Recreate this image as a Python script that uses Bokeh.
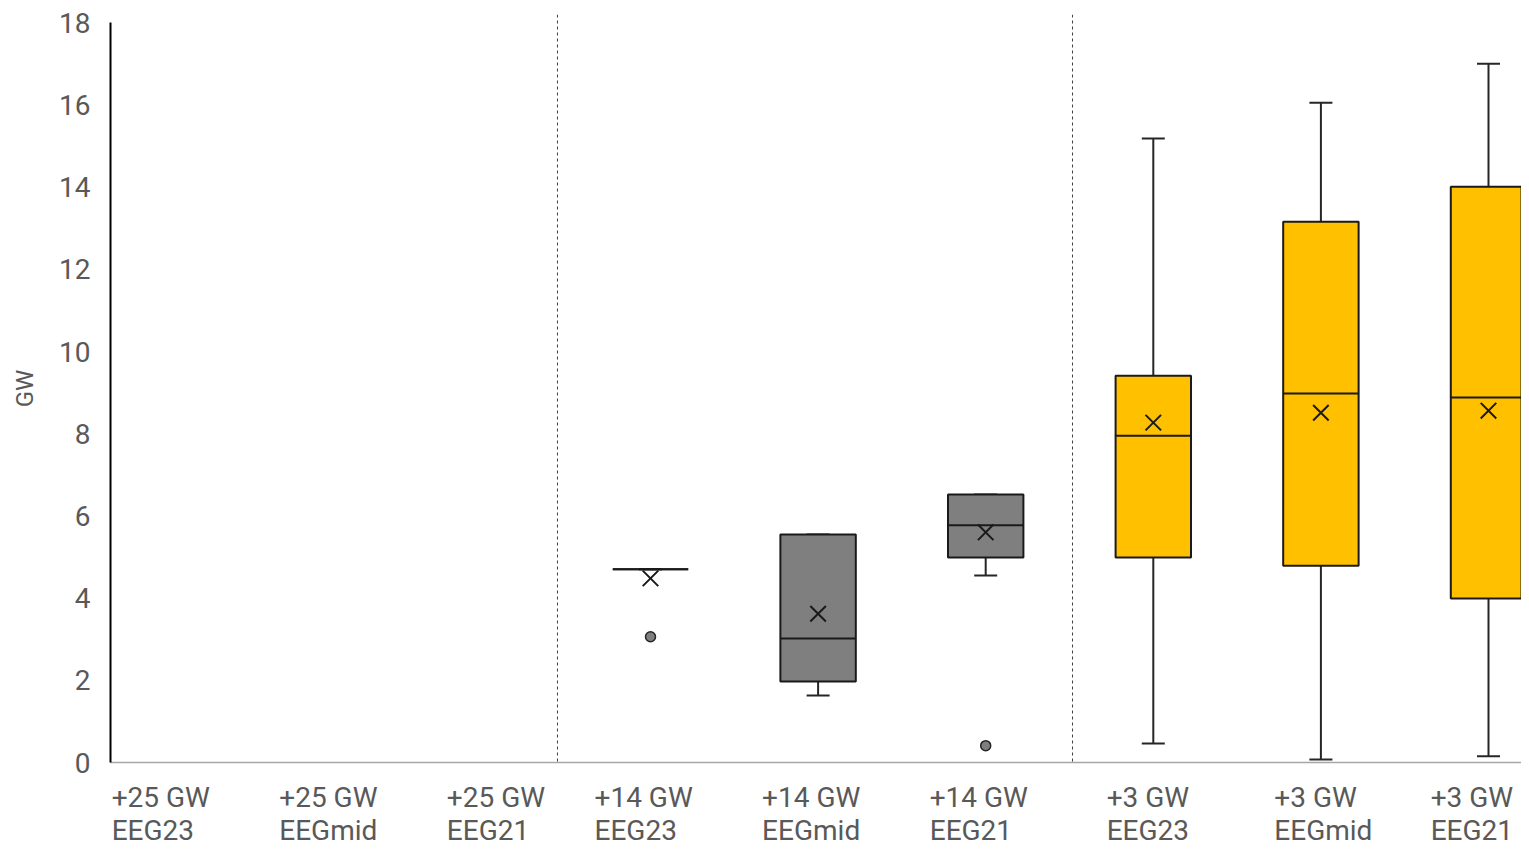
from bokeh.plotting import figure
from bokeh.models import FixedTicker, Range1d, Span, ColumnDataSource
from bokeh.layouts import column
from bokeh.core.properties import value
from bokeh.embed import file_html
from bokeh.resources import INLINE
import numpy as np

# ---- data ----
categories = ["+25 GW\nEEG23", "+25 GW\nEEGmid", "+25 GW\nEEG21",
              "+14 GW\nEEG23", "+14 GW\nEEGmid", "+14 GW\nEEG21",
              "+3 GW\nEEG23", "+3 GW\nEEGmid", "+3 GW\nEEG21"]
y_ticks = [0, 2, 4, 6, 8, 10, 12, 14, 16, 18]

box_index = [3, 4, 5, 6, 7, 8]
q1 = [4.70, 1.97, 4.99, 4.99, 4.79, 3.99]
median = [4.70, 3.02, 5.77, 7.95, 8.98, 8.88]
q3 = [4.70, 5.55, 6.52, 9.41, 13.16, 14.01]
whisker_low = [4.70, 1.63, 4.55, 0.46, 0.07, 0.15]
whisker_high = [4.70, 5.55, 6.52, 15.18, 16.05, 17.00]
mean = [4.48, 3.62, 5.60, 8.27, 8.51, 8.56]
box_colors = ["#7F7F7F", "#7F7F7F", "#7F7F7F", "#FFC000", "#FFC000", "#FFC000"]

outlier_index = [3, 5]
outlier_value = [3.06, 0.41]

# ---- layout constants ----
W, H_MAIN, H_LAB = 1521, 780, 65
PX0, PX_PER_CAT = 147.2, 167.6          # pixel of category 0 centre, pixels per category
FRAME_LEFT = 110
BOX_W = 0.45
TEXT = "#595959"
FONT = "Roboto"
GROUP_LABEL_SHIFT = [-0.215] * 3 + [-0.334] * 3 + [-0.278] * 2 + [-0.345]

x = np.array(box_index, dtype=float)
src = ColumnDataSource(dict(
    x=x, q1=q1, med=median, q3=q3, lo=whisker_low, hi=whisker_high,
    mean=mean, color=box_colors,
    x0=x - BOX_W / 2, x1=x + BOX_W / 2,
))

x_start = (FRAME_LEFT - PX0) / PX_PER_CAT
x_end = (W - PX0) / PX_PER_CAT
xr = Range1d(x_start, x_end)

p = figure(width=W, height=H_MAIN,
           x_range=xr, y_range=Range1d(0, 18.2),
           output_backend="svg", toolbar_location=None,
           min_border_left=FRAME_LEFT, min_border_right=0,
           min_border_top=14, min_border_bottom=18)
p.outline_line_color = None
p.grid.visible = False
p.background_fill_color = "white"

# separators
for sx in (2.445, 5.518):
    p.add_layout(Span(location=sx, dimension="height", line_color="#404040",
                      line_width=1, line_dash="3 3"))

# whiskers
p.segment(x0="x", y0="q3", x1="x", y1="hi", source=src, line_color="#262626", line_width=2)
p.segment(x0="x", y0="q1", x1="x", y1="lo", source=src, line_color="#262626", line_width=2)
p.scatter(x="x", y="hi", source=src, marker="dash", size=23, line_color="#262626", line_width=2)
p.scatter(x="x", y="lo", source=src, marker="dash", size=23, line_color="#262626", line_width=2)

# boxes
p.vbar(x="x", width=BOX_W, bottom="q1", top="q3", source=src,
       fill_color="color", line_color="#1a1a1a", line_width=2)
p.segment(x0="x0", y0="med", x1="x1", y1="med", source=src, line_color="#1a1a1a", line_width=2)

# mean markers
p.scatter(x="x", y="mean", source=src, marker="x", size=22, line_color="#1a1a1a", line_width=2)

# outliers
p.scatter(x=outlier_index, y=outlier_value, marker="circle", size=10,
          fill_color="#7F7F7F", line_color="#262626", line_width=1.5)

# y axis
ya = p.yaxis[0]
ya.ticker = FixedTicker(ticks=y_ticks)
ya.bounds = (0, 18)
ya.axis_line_color = "#000000"
ya.axis_line_width = 2
ya.major_tick_line_color = None
ya.minor_tick_line_color = None
ya.major_label_text_font = FONT
ya.major_label_text_font_size = "28px"
ya.major_label_text_color = TEXT
ya.major_label_standoff = 14
ya.axis_label = "GW"
ya.axis_label_text_font = FONT
ya.axis_label_text_font_size = "24px"
ya.axis_label_text_font_style = "normal"
ya.axis_label_text_color = TEXT
ya.axis_label_standoff = 17

# x axis: line only
xa = p.xaxis[0]
xa.ticker = FixedTicker(ticks=[])
xa.axis_line_color = "#A6A6A6"
xa.axis_line_width = 1.5
xa.major_tick_line_color = None
xa.minor_tick_line_color = None
xa.major_label_text_font_size = "0px"
xa.major_label_standoff = 0

# category labels strip (same x range, frames aligned by the column layout)
p2 = figure(width=W, height=H_LAB,
            x_range=xr, y_range=Range1d(H_LAB, 0),
            output_backend="svg", toolbar_location=None,
            x_axis_location=None, y_axis_location=None,
            min_border_left=FRAME_LEFT, min_border_right=0,
            min_border_top=0, min_border_bottom=0)
p2.outline_line_color = None
p2.grid.visible = False

label_x = [i + s for i, s in enumerate(GROUP_LABEL_SHIFT)]
p2.text(x=label_x, y=[0] * len(categories), text=categories,
        text_font=value(FONT), text_font_size="28px", text_color=TEXT,
        text_align="left", text_baseline="top", text_line_height=1.0)

layout = column(p, p2, spacing=0)
open("out.html", "w").write(file_html(layout, INLINE))
